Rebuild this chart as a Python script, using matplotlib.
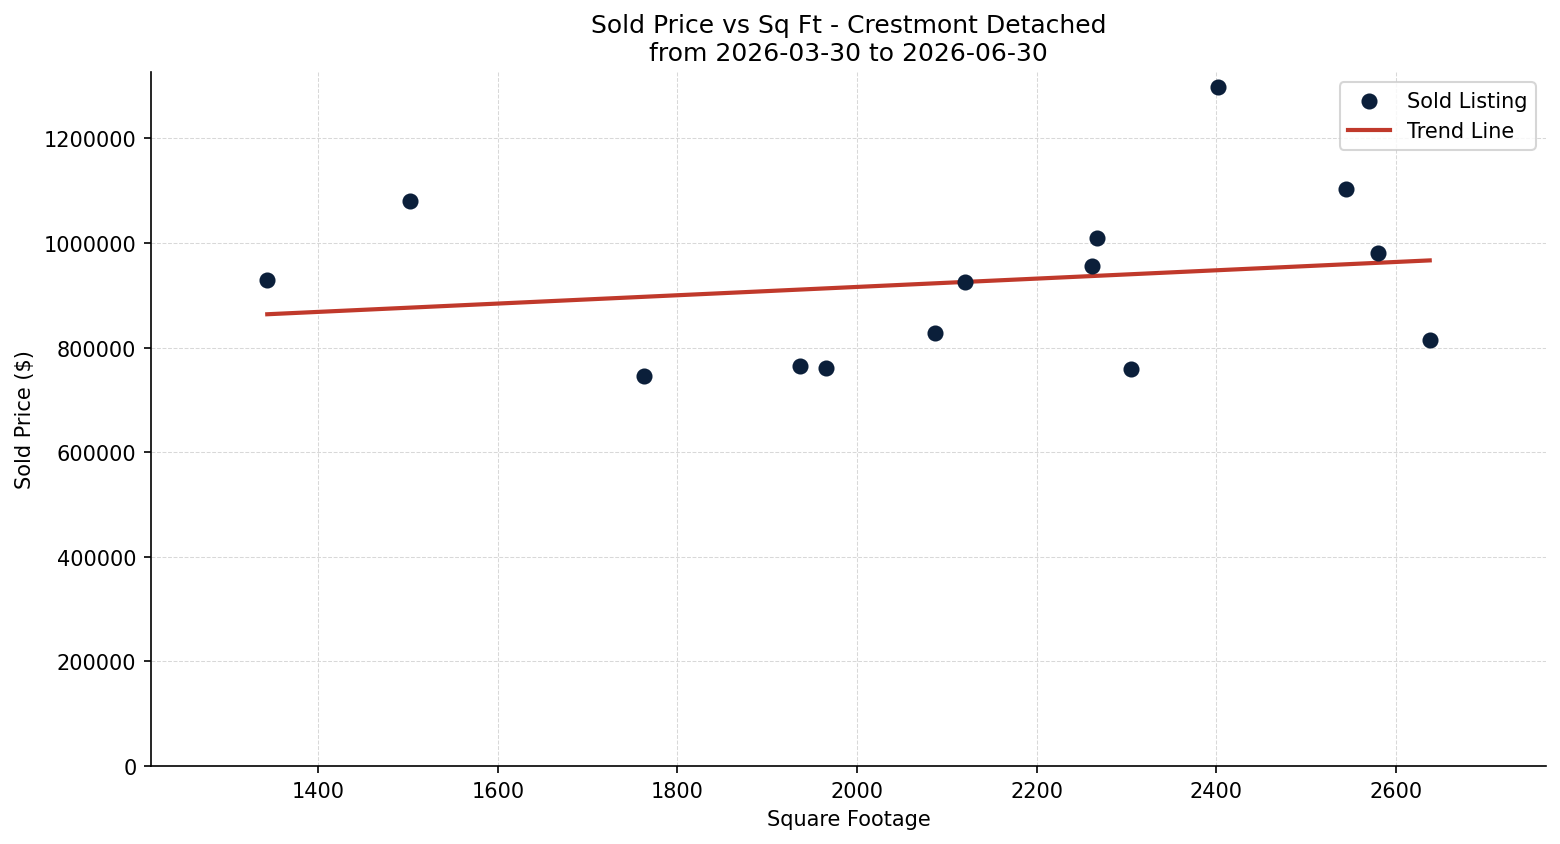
import numpy as np
import matplotlib
matplotlib.use("Agg")
import matplotlib.pyplot as plt

# sold listings
sqft = [1343, 1502, 1763, 1936, 1965, 2087, 2120, 2262, 2267, 2305, 2402, 2545, 2580, 2638]
price = [930000, 1081000, 745000, 765000, 761000, 828000, 926000, 956000, 1010000,
         759000, 1299000, 1104000, 980000, 815000]

community = "Crestmont Detached"
date_from = "2026-03-30"
date_to = "2026-06-30"

x = np.array(sqft, dtype=float)
y = np.array(price, dtype=float)

fig, ax = plt.subplots(figsize=(10.4, 5.633), dpi=150)

ax.scatter(x, y, s=45, color="#0b1f3a", label="Sold Listing", zorder=3)

# linear trend
m, b = np.polyfit(x, y, 1)
xs = np.linspace(x.min(), x.max(), 100)
ax.plot(xs, m * xs + b, color="#c0392b", linewidth=2, label="Trend Line", zorder=2)

ax.margins(x=0.1)
ax.set_ylim(bottom=0)
ax.ticklabel_format(style="plain", axis="y")

ax.set_title(f"Sold Price vs Sq Ft - {community}\nfrom {date_from} to {date_to}", fontsize=12)
ax.set_xlabel("Square Footage")
ax.set_ylabel("Sold Price ($)")
ax.grid(True, linestyle="--", linewidth=0.5, color="#d8d8d8")
ax.set_axisbelow(True)
ax.spines["top"].set_visible(False)
ax.spines["right"].set_visible(False)
ax.legend(loc="upper right")

fig.subplots_adjust(left=0.0968, right=0.991, top=0.9136, bottom=0.0923)
plt.savefig("out.png")
